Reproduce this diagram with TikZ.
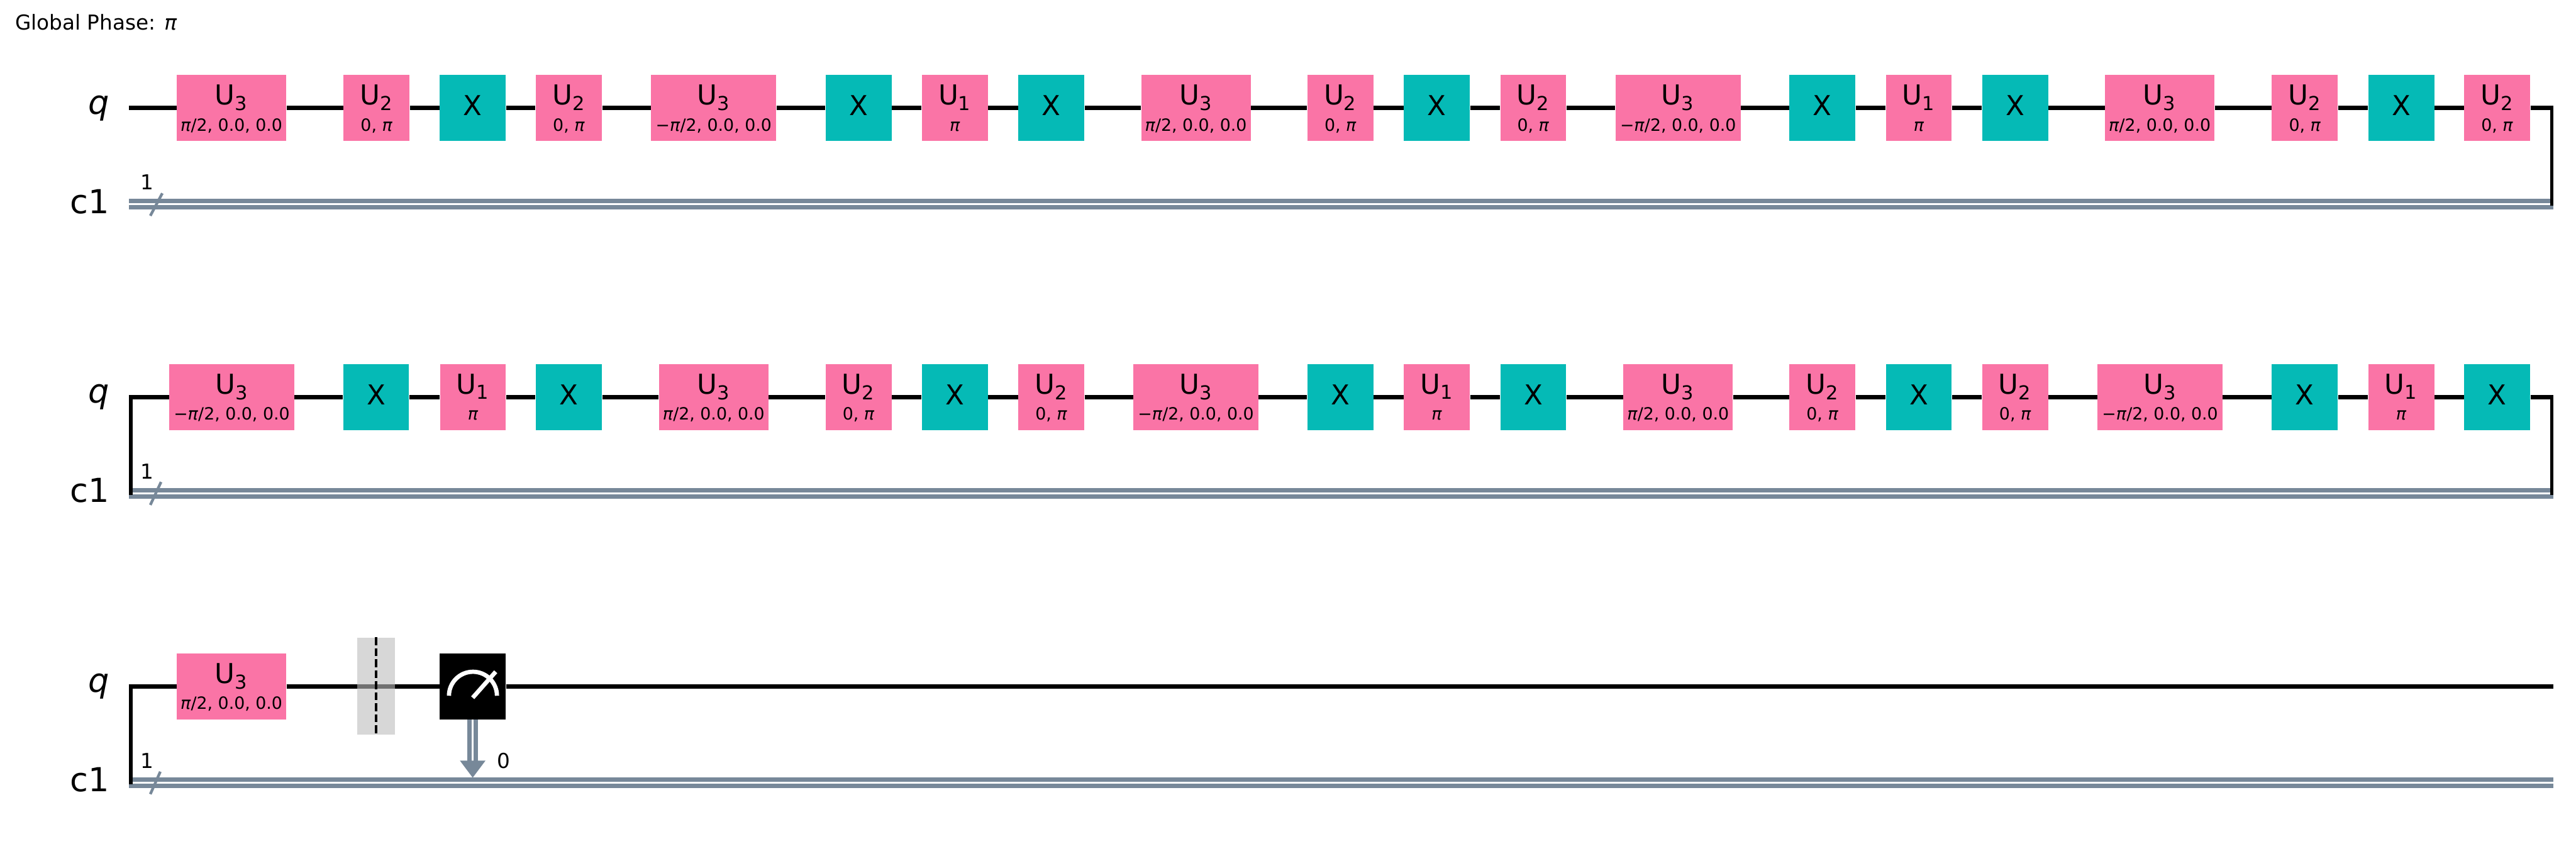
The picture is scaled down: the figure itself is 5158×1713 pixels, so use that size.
\documentclass[tikz,border=0pt]{standalone}
\usepackage{fontspec}
\setmainfont{DejaVu Sans}
\definecolor{gatepink}{HTML}{FA74A6}
\definecolor{gateteal}{HTML}{05BAB6}
\definecolor{wiregray}{HTML}{778899}
\definecolor{bargray}{HTML}{BDBDBD}
\tikzset{
  ubox/.style={fill=gatepink,inner sep=0pt,minimum width=1.32cm,minimum height=1.32cm},
  uwide/.style={ubox,minimum width=2.19cm},
  uwider/.style={ubox,minimum width=2.5cm},
  xbox/.style={fill=gateteal,inner sep=0pt,minimum width=1.32cm,minimum height=1.32cm},
  mbox/.style={fill=black,inner sep=0pt,minimum width=1.32cm,minimum height=1.32cm},
  barbox/.style={fill=bargray,opacity=0.6,inner sep=0pt,minimum width=0.755cm,minimum height=1.94cm},
  gatename/.style={anchor=base,inner sep=0pt,font=\fontsize{15.6}{18}\selectfont},
  gateparam/.style={anchor=base,inner sep=0pt,font=\fontsize{9.6}{12}\selectfont},
  reglabel/.style={anchor=base east,inner sep=0pt,font=\fontsize{18.8}{22}\selectfont},
  smalllabel/.style={anchor=base,inner sep=0pt,font=\fontsize{11.7}{14}\selectfont},
  qwire/.style={line width=0.087cm},
  cwire/.style={draw=wiregray,double=white,line width=0.087cm,double distance=0.041cm},
  foldwire/.style={line width=0.066cm},
  cslash/.style={wiregray,line width=0.055cm},
}
\newcommand{\ugate}[5]{%
  \node[#1] (#2) at #3 {};
  \node[gatename] (#2name) at ([yshift=0.06cm]#2.center) {U\textsubscript{#4}};
  \node[gateparam] (#2par) at ([yshift=-0.46cm]#2.center) {#5};
}
\newcommand{\xgate}[2]{%
  \node[xbox] (#1) at #2 {};
  \node[gatename] (#1name) at ([yshift=-0.15cm]#1.center) {X};
}
\newcommand{\pihalf}{\textit{π}/2, 0.0, 0.0}
\newcommand{\mpihalf}{−\textit{π}/2, 0.0, 0.0}
\newcommand{\zeropi}{0, \textit{π}}

\begin{document}
\begin{tikzpicture}[x=0.01cm,y=-0.01cm]
  \useasboundingbox (0,0) rectangle (5158,1713);

  \node[smalllabel,anchor=base west] (phase) at (30,60) {Global Phase: \textit{π}};

  \node[reglabel] (qa) at (220,228) {\textit{q}};
  \node[reglabel] (ca) at (220,427) {c1};
  \node[smalllabel] (na) at (295,380) {1};
  \coordinate (qas) at (258,216);
  \coordinate (qae) at (5113,216);
  \coordinate (cas) at (258,408.5);
  \coordinate (cae) at (5113,408.5);
  \coordinate (folda) at (5109.5,216);
  \coordinate (foldb) at (5109.5,412);

  \ugate{uwide}{a1}{(463.5,216)}{3}{\pihalf}
  \ugate{ubox}{a2}{(754,216)}{2}{\zeropi}
  \xgate{a3}{(946.5,216)}
  \ugate{ubox}{a4}{(1139,216)}{2}{\zeropi}
  \ugate{uwider}{a5}{(1429,216)}{3}{\mpihalf}
  \xgate{a6}{(1719,216)}
  \ugate{ubox}{a7}{(1912,216)}{1}{\textit{π}}
  \xgate{a8}{(2105,216)}
  \ugate{uwide}{a9}{(2394.5,216)}{3}{\pihalf}
  \ugate{ubox}{a10}{(2684,216)}{2}{\zeropi}
  \xgate{a11}{(2877,216)}
  \ugate{ubox}{a12}{(3070,216)}{2}{\zeropi}
  \ugate{uwider}{a13}{(3360,216)}{3}{\mpihalf}
  \xgate{a14}{(3649,216)}
  \ugate{ubox}{a15}{(3842,216)}{1}{\textit{π}}
  \xgate{a16}{(4035,216)}
  \ugate{uwide}{a17}{(4324.5,216)}{3}{\pihalf}
  \ugate{ubox}{a18}{(4615,216)}{2}{\zeropi}
  \xgate{a19}{(4808,216)}
  \ugate{ubox}{a20}{(5000,216)}{2}{\zeropi}

  \draw[qwire] (qas) -- (a1) -- (a2) -- (a3) -- (a4) -- (a5) -- (a6) -- (a7) -- (a8) -- (a9) -- (a10)
    -- (a11) -- (a12) -- (a13) -- (a14) -- (a15) -- (a16) -- (a17) -- (a18) -- (a19) -- (a20) -- (qae);
  \draw[cwire] (cas) -- (cae);
  \draw[foldwire] (folda) -- (foldb);
  \draw[cslash] (325,387) -- (301,432);

  \node[reglabel] (qb) at (220,807) {\textit{q}};
  \node[reglabel] (cb) at (220,1006) {c1};
  \node[smalllabel] (nb) at (295,959.5) {1};
  \coordinate (qbs) at (258,795);
  \coordinate (qbe) at (5113,795);
  \coordinate (cbs) at (258,988);
  \coordinate (cbe) at (5113,988);
  \coordinate (foldc) at (262,795);
  \coordinate (foldd) at (262,991);
  \coordinate (folde) at (5109.5,795);
  \coordinate (foldf) at (5109.5,991);

  \ugate{uwider}{b1}{(464,795)}{3}{\mpihalf}
  \xgate{b2}{(753,795)}
  \ugate{ubox}{b3}{(947,795)}{1}{\textit{π}}
  \xgate{b4}{(1139,795)}
  \ugate{uwide}{b5}{(1429,795)}{3}{\pihalf}
  \ugate{ubox}{b6}{(1719,795)}{2}{\zeropi}
  \xgate{b7}{(1912,795)}
  \ugate{ubox}{b8}{(2105,795)}{2}{\zeropi}
  \ugate{uwider}{b9}{(2394.5,795)}{3}{\mpihalf}
  \xgate{b10}{(2684,795)}
  \ugate{ubox}{b11}{(2877,795)}{1}{\textit{π}}
  \xgate{b12}{(3070,795)}
  \ugate{uwide}{b13}{(3360,795)}{3}{\pihalf}
  \ugate{ubox}{b14}{(3649,795)}{2}{\zeropi}
  \xgate{b15}{(3842,795)}
  \ugate{ubox}{b16}{(4035,795)}{2}{\zeropi}
  \ugate{uwider}{b17}{(4325,795)}{3}{\mpihalf}
  \xgate{b18}{(4615,795)}
  \ugate{ubox}{b19}{(4808,795)}{1}{\textit{π}}
  \xgate{b20}{(5000,795)}

  \draw[qwire] (qbs) -- (b1) -- (b2) -- (b3) -- (b4) -- (b5) -- (b6) -- (b7) -- (b8) -- (b9) -- (b10)
    -- (b11) -- (b12) -- (b13) -- (b14) -- (b15) -- (b16) -- (b17) -- (b18) -- (b19) -- (b20) -- (qbe);
  \draw[cwire] (cbs) -- (cbe);
  \draw[foldwire] (foldc) -- (foldd);
  \draw[foldwire] (folde) -- (foldf);
  \draw[cslash] (322.5,965) -- (301,1011);

  \node[reglabel] (qc) at (220,1386) {\textit{q}};
  \node[reglabel] (cc) at (220,1585) {c1};
  \node[smalllabel] (nc) at (295,1538) {1};
  \node[smalllabel] (zero) at (1008,1538) {0};
  \coordinate (qcs) at (258,1374);
  \coordinate (qce) at (5113,1374);
  \coordinate (ccs) at (258,1567);
  \coordinate (cce) at (5113,1567);
  \coordinate (foldg) at (262,1374);
  \coordinate (foldh) at (262,1570);

  \ugate{uwide}{c1}{(463.5,1374)}{3}{\pihalf}
  \node[mbox] (meas) at (946.5,1374) {};
  \coordinate (tip) at (946.5,1557);
  \coordinate (tipl) at (921,1523);
  \coordinate (tipr) at (972,1523);
  \coordinate (tipm) at (946.5,1530);

  \draw[qwire] (qcs) -- (c1) -- (meas) -- (qce);
  \draw[cwire] (ccs) -- (cce);
  \draw[foldwire] (foldg) -- (foldh);
  \draw[cslash] (321,1545) -- (301,1590);

  \node[barbox] (bar) at (753,1374) {};
  \draw[line width=0.045cm,dash pattern=on 0.155cm off 0.065cm] (bar.north) -- (bar.south);

  \draw[white,line width=0.085cm] (899,1393) arc[start angle=180,end angle=0,radius=0.48cm];
  \draw[white,line width=0.085cm] (946.5,1397) -- (992.5,1345);

  \draw[cwire] (meas) -- (tipm);
  \fill[wiregray] (tipl) -- (tipr) -- (tip) -- cycle;
\end{tikzpicture}
\end{document}
